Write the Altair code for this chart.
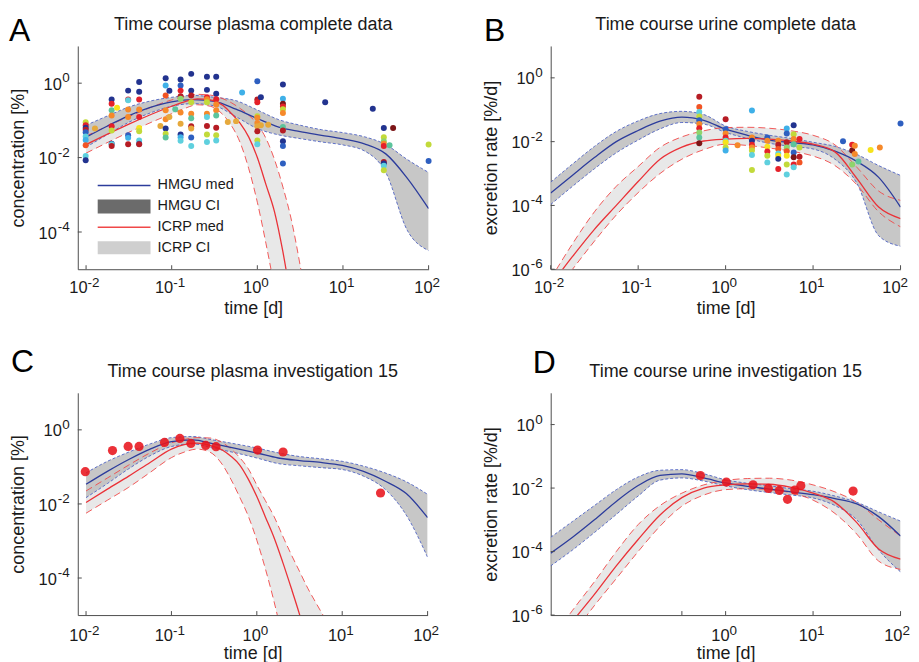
import altair as alt
import pandas as pd

FONT = "Liberation Sans"
TXT = "#1a1a1a"
AXC = "#4d4d4d"

# ---------------------------------------------------------------------------
# Model curves: log10 of the value, on a log10(time) grid
# ---------------------------------------------------------------------------
GRID = [-2.0, -1.75, -1.5, -1.25, -1.0, -0.75, -0.5, -0.25, 0.0, 0.25, 0.5, 0.75, 1.0, 1.25, 1.5, 1.75, 2.0]

# Panel A - plasma, complete data
A_hmgu_logt = GRID
A_hmgu_med = [-1.45, -1.15, -0.87, -0.65, -0.50, -0.44, -0.49, -0.70, -0.95, -1.18, -1.30, -1.40, -1.50, -1.63, -1.90, -2.55, -3.37]
A_hmgu_lo = [-1.72, -1.38, -1.05, -0.80, -0.62, -0.55, -0.61, -0.90, -1.22, -1.39, -1.49, -1.58, -1.66, -1.82, -2.40, -3.95, -4.50]
A_hmgu_hi = [-1.13, -0.88, -0.64, -0.48, -0.38, -0.33, -0.38, -0.47, -0.72, -0.98, -1.13, -1.25, -1.33, -1.44, -1.65, -2.05, -2.40]
A_icrp_logt = [-2.0, -1.5, -1.0, -0.85, -0.7, -0.55, -0.4, -0.3, -0.2, -0.1, 0.0, 0.1, 0.2, 0.3, 0.4, 0.5, 0.6]
A_icrp_med = [-1.65, -1.10, -0.62, -0.50, -0.42, -0.45, -0.60, -0.82, -1.08, -1.45, -2.00, -2.72, -3.45, -4.55, -5.90, -7.30, -8.50]
A_icrp_lo = [-1.88, -1.32, -0.82, -0.68, -0.58, -0.62, -0.85, -1.15, -1.60, -2.30, -3.20, -4.30, -5.50, -6.80, -8.00, -9.00, -10.0]
A_icrp_hi = [-1.42, -0.90, -0.45, -0.36, -0.30, -0.32, -0.42, -0.53, -0.68, -0.86, -1.10, -1.48, -2.05, -2.80, -3.70, -4.90, -6.30]

# Panel B - urine, complete data
B_hmgu_logt = GRID
B_hmgu_med = [-3.61, -3.05, -2.50, -2.00, -1.65, -1.36, -1.23, -1.33, -1.61, -1.80, -1.95, -2.03, -2.10, -2.30, -2.62, -3.12, -4.05]
B_hmgu_lo = [-3.97, -3.40, -2.85, -2.35, -1.95, -1.60, -1.40, -1.45, -1.71, -1.90, -2.05, -2.15, -2.23, -2.55, -3.30, -4.95, -5.28]
B_hmgu_hi = [-3.27, -2.70, -2.15, -1.68, -1.35, -1.12, -1.05, -1.15, -1.51, -1.68, -1.80, -1.90, -2.02, -2.15, -2.40, -2.75, -3.06]
B_icrp_logt = GRID
B_icrp_med = [-6.50, -5.60, -4.75, -4.00, -3.25, -2.55, -2.17, -1.98, -1.92, -1.90, -1.92, -1.98, -2.08, -2.32, -3.15, -4.05, -4.41]
B_icrp_lo = [-6.90, -6.00, -5.12, -4.30, -3.60, -3.00, -2.55, -2.25, -2.08, -2.12, -2.20, -2.30, -2.45, -2.75, -3.35, -4.20, -4.67]
B_icrp_hi = [-6.30, -5.20, -4.20, -3.40, -2.78, -2.18, -1.85, -1.66, -1.56, -1.55, -1.58, -1.66, -1.80, -2.10, -2.80, -3.55, -3.84]

# Panel C - plasma, investigation 15
C_hmgu_logt = GRID
C_hmgu_med = [-1.47, -1.12, -0.80, -0.52, -0.32, -0.27, -0.38, -0.50, -0.625, -0.76, -0.83, -0.88, -0.96, -1.12, -1.38, -1.72, -2.37]
C_hmgu_lo = [-1.83, -1.45, -1.05, -0.70, -0.45, -0.38, -0.50, -0.62, -0.76, -0.91, -0.97, -1.02, -1.07, -1.25, -1.60, -2.30, -3.44]
C_hmgu_hi = [-1.16, -0.85, -0.60, -0.38, -0.21, -0.18, -0.28, -0.38, -0.49, -0.62, -0.72, -0.78, -0.85, -0.98, -1.16, -1.40, -1.74]
C_icrp_logt = [-2.0, -1.75, -1.5, -1.25, -1.0, -0.85, -0.7, -0.55, -0.4, -0.3, -0.2, -0.1, 0.0, 0.1, 0.2, 0.3, 0.4, 0.5, 0.6, 0.7, 0.8]
C_icrp_med = [-1.96, -1.60, -1.25, -0.88, -0.52, -0.40, -0.36, -0.42, -0.55, -0.72, -0.95, -1.33, -1.80, -2.35, -2.90, -3.55, -4.25, -4.98, -5.80, -6.60, -7.40]
C_icrp_lo = [-2.25, -1.90, -1.55, -1.15, -0.75, -0.60, -0.52, -0.60, -0.95, -1.35, -1.82, -2.33, -2.98, -3.75, -4.62, -5.60, -6.60, -7.60, -8.60, -9.60, -10.6]
C_icrp_hi = [-1.65, -1.30, -0.95, -0.62, -0.35, -0.26, -0.21, -0.22, -0.35, -0.52, -0.75, -1.05, -1.49, -1.91, -2.33, -2.85, -3.35, -3.82, -4.29, -4.70, -5.10]

# Panel D - urine, investigation 15
D_hmgu_logt = GRID
D_hmgu_med = [-4.05, -3.55, -3.00, -2.42, -1.92, -1.60, -1.55, -1.68, -1.84, -1.95, -2.03, -2.12, -2.21, -2.33, -2.50, -2.90, -3.51]
D_hmgu_lo = [-4.45, -3.95, -3.40, -2.83, -2.25, -1.75, -1.68, -1.78, -1.93, -2.05, -2.14, -2.22, -2.31, -2.55, -3.00, -3.95, -4.64]
D_hmgu_hi = [-3.55, -3.05, -2.55, -2.05, -1.65, -1.44, -1.42, -1.55, -1.74, -1.85, -1.93, -2.02, -2.10, -2.25, -2.45, -2.75, -3.04]
D_icrp_logt = GRID
D_icrp_med = [-7.10, -6.20, -5.35, -4.45, -3.62, -2.85, -2.30, -2.00, -1.90, -1.87, -1.88, -1.98, -2.16, -2.45, -3.09, -3.92, -4.24]
D_icrp_lo = [-7.50, -6.60, -5.70, -4.85, -4.00, -3.20, -2.57, -2.22, -2.05, -2.02, -2.05, -2.15, -2.38, -2.80, -3.45, -4.30, -4.56]
D_icrp_hi = [-6.80, -5.85, -4.95, -4.00, -3.15, -2.55, -2.16, -1.90, -1.76, -1.70, -1.69, -1.75, -1.90, -2.12, -2.45, -3.00, -3.51]

# ---------------------------------------------------------------------------
# Observations (time in days, log10 value, investigation index)
# ---------------------------------------------------------------------------
A_obs_time = [0.0099, 0.0127, 0.0199, 0.023, 0.031, 0.0417, 0.0738, 0.085, 0.094, 0.11, 0.127, 0.169,
              0.258, 0.331, 0.452, 0.565, 0.664, 1.0, 1.1, 1.34, 1.99, 6.2, 22.3, 30.0, 35.0, 38.5, 100.0]
A_obs_logv = [
    [-1.05, -1.13, -1.20, -1.25, -1.32, -1.43, -1.53, -1.67, -1.96, -2.07],
    [-1.22],
    [-0.44, -0.55, -0.73, -0.87, -1.16, -1.27, -1.625, -1.64, -1.69],
    [-0.66],
    [-0.20, -0.44, -0.46, -0.71, -0.91, -1.40, -1.47, -1.64],
    [0.03, -0.23, -0.44, -0.71, -0.91, -1.205, -1.29, -1.54, -1.625, -1.64],
    [-1.15],
    [0.13, -0.06, -0.33, -0.73, -0.97, -1.22, -1.36, -1.46],
    [-0.205, -0.91],
    [-0.70],
    [0.10, -0.06, -0.20, -0.35, -0.42, -0.79, -1.09, -1.38, -1.45, -1.55],
    [0.25, -0.20, -0.33, -0.51, -0.82, -0.94, -1.16, -1.22, -1.46, -1.69],
    [0.17, -0.18, -0.375, -0.43, -0.51, -0.82, -0.91, -1.15, -1.38, -1.58],
    [0.17, -0.285, -0.43, -0.57, -0.73, -0.87, -1.20, -1.40, -1.54],
    [-1.045],
    [-1.02],
    [-0.25],
    [0.054, -0.44, -0.51, -0.89, -0.93, -1.07, -1.16, -1.29, -1.54, -1.64],
    [-0.375, -1.13],
    [-1.12],
    [-0.036, -0.42, -0.55, -0.625, -0.70, -0.80, -1.18, -1.27, -1.56, -1.69, -2.16],
    [-0.51],
    [-0.69],
    [-1.205, -1.45, -1.56, -1.625, -1.69, -2.12, -2.16, -2.22, -2.34],
    [-1.67],
    [-1.205],
    [-1.65, -2.09],
]
A_obs_study = [
    [7, 12, 1, 13, 2, 4, 3, 11, 4, 1],
    [9],
    [1, 12, 5, 10, 12, 7, 1, 4, 13],
    [8],
    [1, 12, 4, 10, 10, 2, 3, 13],
    [1, 1, 12, 10, 12, 8, 7, 4, 2, 13],
    [9],
    [1, 3, 11, 10, 10, 1, 7, 5],
    [1, 9],
    [5],
    [1, 2, 12, 13, 6, 10, 9, 1, 3, 4],
    [1, 1, 13, 7, 10, 5, 13, 9, 2, 4],
    [1, 1, 12, 10, 7, 10, 4, 13, 7, 4],
    [1, 1, 12, 10, 10, 5, 13, 7, 4],
    [9],
    [9],
    [3],
    [2, 13, 12, 7, 10, 10, 9, 13, 7, 4],
    [1, 9],
    [9],
    [1, 3, 14, 12, 7, 10, 5, 13, 1, 2, 2],
    [1],
    [1],
    [1, 7, 6, 10, 12, 13, 1, 4, 7],
    [5],
    [14],
    [7, 2],
]

B_obs_time = [0.5, 1.0, 1.37, 2.0, 3.0, 4.0, 5.0, 6.0, 7.0, 22.0, 28.0, 30.0, 33.0, 45.5, 58.0, 100.0]
B_obs_logv = [
    [-0.59, -0.91, -1.07, -1.215, -1.33, -1.45, -1.58, -1.71, -1.87, -2.05],
    [-1.30, -1.61, -1.745, -1.87, -1.97, -2.02, -2.18, -2.28],
    [-2.11],
    [-1.02, -1.87, -1.97, -2.10, -2.18, -2.28, -2.42, -2.89],
    [-1.87, -1.97, -2.16, -2.31, -2.44, -2.65],
    [-1.97, -2.10, -2.23, -2.37, -2.44, -2.54, -2.86],
    [-1.59, -1.745, -2.02, -2.18, -2.30, -2.44, -2.72, -3.03],
    [-1.485, -1.765, -1.92, -2.08, -2.34, -2.49, -2.72, -2.80],
    [-1.92, -2.18, -2.47, -2.65],
    [-1.99],
    [-2.10, -2.28, -2.72],
    [-2.13, -2.39],
    [-2.62],
    [-2.26],
    [-2.18],
    [-1.43],
]
B_obs_study = [
    [13, 11, 4, 7, 2, 10, 12, 6, 5, 14],
    [13, 2, 10, 12, 4, 8, 7, 3],
    [10],
    [3, 10, 1, 12, 10, 7, 4, 7],
    [2, 10, 8, 12, 7, 4],
    [10, 13, 11, 4, 8, 1, 12],
    [3, 2, 13, 6, 11, 8, 7, 4],
    [1, 7, 10, 5, 2, 14, 12, 4],
    [12, 7, 13, 11],
    [2],
    [12, 14, 6],
    [10, 10],
    [5],
    [8],
    [10],
    [2],
]

C_obs_time = [0.0098, 0.0204, 0.0311, 0.0418, 0.083, 0.1256, 0.169, 0.252, 0.333, 1.02, 2.03, 28.1]
C_obs_logv = [-1.13, -0.56, -0.446, -0.446, -0.34, -0.232, -0.366, -0.42, -0.455, -0.545, -0.598, -1.705]

D_obs_time = [0.515, 1.02, 2.06, 3.08, 4.11, 5.1, 6.19, 7.24, 28.7]
D_obs_logv = [-1.604, -1.8125, -1.896, -2.01, -2.073, -2.354, -2.0625, -1.927, -2.094]

STUDIES = list(range(1, 15))
PALETTE = ["#22338f", "#2e5fc0", "#3fb0e8", "#5fd0de", "#5cc49c", "#8fd46c", "#c2da3a",
           "#f6e31c", "#e6a93c", "#f6892a", "#f25424", "#e5212a", "#b61c24", "#7c1517"]

# tick positions and their decade exponents
X_TICKS = [0.01, 0.1, 1, 10, 100]
X_EXPS = [-2, -1, 0, 1, 2]
D_X_TICKS = [10 ** -0.5, 1, 10, 100]
D_X_LABELED = [1, 10, 100]
D_X_EXPS = [0, 1, 2]
Y_TICKS_PLASMA = [1e-4, 1e-2, 1]
Y_EXPS_PLASMA = [-4, -2, 0]
Y_TICKS_URINE = [1e-6, 1e-4, 1e-2, 1]
Y_EXPS_URINE = [-6, -4, -2, 0]


def curve_df(logt, med, lo, hi):
    return pd.DataFrame({
        "t": [10 ** x for x in logt],
        "med": [10 ** x for x in med],
        "lo": [10 ** x for x in lo],
        "hi": [10 ** x for x in hi],
    })


def obs_grouped(times, logv, study):
    rows = []
    for t, vs, ss in zip(times, logv, study):
        for v, s in zip(vs, ss):
            rows.append({"t": t, "v": 10 ** v, "s": s})
    return pd.DataFrame(rows)


def obs_single(times, logv):
    return pd.DataFrame({"t": times, "v": [10 ** v for v in logv]})


def one(**kw):
    return pd.DataFrame({k: [v] for k, v in kw.items()})


def panel(hm, ic, obs, w, h, xdom, ydom, xticks, xlab_vals, xlab_exps, yticks, yexps,
          title, ytitle, letter, letter_x, letter_y, colored, xlab_off, last_shift=0.0, legend=False):
    xs = alt.Scale(type="log", domain=xdom, nice=False)
    ys = alt.Scale(type="log", domain=ydom, nice=False)
    ax = alt.Axis(values=xticks, labels=False, title="time [d]",
                  grid=False, ticks=False, tickSize=0, domainColor=AXC, domainWidth=1,
                  titleFont=FONT, titleFontSize=18, titleFontWeight="normal", titleColor=TXT,
                  titlePadding=30)
    ay = alt.Axis(values=yticks, labels=False, title=ytitle,
                  grid=False, ticks=False, tickSize=0, domainColor=AXC, domainWidth=1,
                  titleFont=FONT, titleFontSize=18, titleFontWeight="normal", titleColor=TXT,
                  titlePadding=50)

    def X(f="t"):
        return alt.X(f"{f}:Q", scale=xs, axis=ax)

    def Y(f):
        return alt.Y(f"{f}:Q", scale=ys, axis=ay)

    layers = []
    layers.append(alt.Chart(ic).mark_area(color="#e8e8e8", clip=True, interpolate="monotone")
                  .encode(x=X(), y=Y("lo"), y2=alt.Y2("hi:Q")))
    layers.append(alt.Chart(hm).mark_area(color="#bdbdbd", opacity=0.85, clip=True, interpolate="monotone")
                  .encode(x=X(), y=Y("lo"), y2=alt.Y2("hi:Q")))
    for f in ("lo", "hi"):
        layers.append(alt.Chart(hm).mark_line(color="#4f63c4", strokeWidth=0.9, strokeDash=[3, 2],
                                              clip=True, interpolate="monotone")
                      .encode(x=X(), y=Y(f)))
    for f in ("lo", "hi"):
        layers.append(alt.Chart(ic).mark_line(color="#f04848", strokeWidth=0.9, strokeDash=[7, 4],
                                              clip=True, interpolate="monotone")
                      .encode(x=X(), y=Y(f)))
    layers.append(alt.Chart(hm).mark_line(color="#2c3c9c", strokeWidth=1.3, clip=True, interpolate="monotone")
                  .encode(x=X(), y=Y("med")))
    layers.append(alt.Chart(ic).mark_line(color="#ea3238", strokeWidth=1.3, clip=True, interpolate="monotone")
                  .encode(x=X(), y=Y("med")))
    if colored:
        layers.append(alt.Chart(obs).mark_circle(size=36, opacity=1)
                      .encode(x=X(), y=Y("v"),
                              color=alt.Color("s:N", scale=alt.Scale(domain=STUDIES, range=PALETTE), legend=None)))
    else:
        layers.append(alt.Chart(obs).mark_circle(size=85, color="#e8141c", opacity=0.88)
                      .encode(x=X(), y=Y("v")))
    # inward ticks
    layers.append(alt.Chart(pd.DataFrame({"t": xticks})).mark_rule(color=AXC, strokeWidth=1)
                  .encode(x=X(), y=alt.value(h), y2=alt.value(h - 4)))
    layers.append(alt.Chart(pd.DataFrame({"v": yticks})).mark_rule(color=AXC, strokeWidth=1)
                  .encode(y=Y("v"), x=alt.value(0), x2=alt.value(4)))
    # x tick labels: "10" with a raised exponent, one pair per tick
    last = max(xlab_vals)
    for v, e in zip(xlab_vals, xlab_exps):
        dx = 1.5 if e < 0 else 4.0
        if v == last:
            dx += last_shift
        df = pd.DataFrame({"t": [v], "b": ["10"], "e": [str(e)]})
        layers.append(alt.Chart(df).mark_text(font=FONT, fontSize=16.5, align="right", baseline="alphabetic",
                                              dx=dx, color=TXT)
                      .encode(x=X(), y=alt.value(h + xlab_off), text="b:N"))
        layers.append(alt.Chart(df).mark_text(font=FONT, fontSize=13.5, align="left", baseline="alphabetic",
                                              dx=dx, color=TXT)
                      .encode(x=X(), y=alt.value(h + xlab_off - 6), text="e:N"))
    # y tick labels
    for neg, x10 in ((True, -21), (False, -16)):
        grp = [(v, e) for v, e in zip(yticks, yexps) if (e < 0) == neg]
        if not grp:
            continue
        df = pd.DataFrame({"v": [g[0] for g in grp], "b": ["10"] * len(grp), "e": [str(g[1]) for g in grp]})
        layers.append(alt.Chart(df).mark_text(font=FONT, fontSize=16.5, align="right", baseline="alphabetic",
                                              dy=6.6, color=TXT)
                      .encode(x=alt.value(x10), y=Y("v"), text="b:N"))
        layers.append(alt.Chart(df).mark_text(font=FONT, fontSize=13.5, align="right", baseline="alphabetic",
                                              dy=-1, color=TXT)
                      .encode(x=alt.value(-8), y=Y("v"), text="e:N"))
    # title and panel letter
    layers.append(alt.Chart(one(s=title)).mark_text(font=FONT, fontSize=18, align="center",
                                                     baseline="alphabetic", color=TXT)
                  .encode(x=alt.value(w / 2), y=alt.value(-15.7), text="s:N"))
    layers.append(alt.Chart(one(s=letter)).mark_text(font=FONT, fontSize=32, align="left",
                                                      baseline="alphabetic", color="#000000")
                  .encode(x=alt.value(letter_x), y=alt.value(letter_y), text="s:N"))
    if legend:
        lx0, lx1, tx = 20, 73, 80
        layers.append(alt.Chart(one(a=0)).mark_rule(color="#2c3c9c", strokeWidth=1.5)
                      .encode(x=alt.value(lx0), x2=alt.value(lx1), y=alt.value(140)))
        layers.append(alt.Chart(one(a=0)).mark_rect(color="#6b6b6b")
                      .encode(x=alt.value(lx0), x2=alt.value(lx1), y=alt.value(154), y2=alt.value(168)))
        layers.append(alt.Chart(one(a=0)).mark_rule(color="#f04848", strokeWidth=1.5)
                      .encode(x=alt.value(lx0), x2=alt.value(lx1), y=alt.value(182)))
        layers.append(alt.Chart(one(a=0)).mark_rect(color="#cfcfcf")
                      .encode(x=alt.value(lx0), x2=alt.value(lx1), y=alt.value(196), y2=alt.value(209)))
        for lab, yy in zip(["HMGU med", "HMGU CI", "ICRP med", "ICRP CI"], [140, 161, 182, 202.5]):
            layers.append(alt.Chart(one(s=lab)).mark_text(font=FONT, fontSize=14.5, align="left",
                                                           baseline="middle", color=TXT)
                          .encode(x=alt.value(tx), y=alt.value(yy), text="s:N"))
    return alt.layer(*layers).properties(width=w, height=h)


A = panel(curve_df(A_hmgu_logt, A_hmgu_med, A_hmgu_lo, A_hmgu_hi),
          curve_df(A_icrp_logt, A_icrp_med, A_icrp_lo, A_icrp_hi),
          obs_grouped(A_obs_time, A_obs_logv, A_obs_study),
          352, 224, [0.008, 100], [1e-5, 10], X_TICKS, X_TICKS, X_EXPS, Y_TICKS_PLASMA, Y_EXPS_PLASMA,
          "Time course plasma complete data", "concentration [%]", "A", -69, -5, True, 24, legend=True)
B = panel(curve_df(B_hmgu_logt, B_hmgu_med, B_hmgu_lo, B_hmgu_hi),
          curve_df(B_icrp_logt, B_icrp_med, B_icrp_lo, B_icrp_hi),
          obs_grouped(B_obs_time, B_obs_logv, B_obs_study),
          351, 224, [0.01, 100], [1e-6, 10], X_TICKS, X_TICKS, X_EXPS, Y_TICKS_URINE, Y_EXPS_URINE,
          "Time course urine complete data", "excretion rate [%/d]", "B", -67, -5, True, 24, last_shift=-4.0)
C = panel(curve_df(C_hmgu_logt, C_hmgu_med, C_hmgu_lo, C_hmgu_hi),
          curve_df(C_icrp_logt, C_icrp_med, C_icrp_lo, C_icrp_hi),
          obs_single(C_obs_time, C_obs_logv),
          351, 223, [0.008, 100], [1e-5, 10], X_TICKS, X_TICKS, X_EXPS, Y_TICKS_PLASMA, Y_EXPS_PLASMA,
          "Time course plasma investigation 15", "concentration [%]", "C", -67, -21, False, 26)
D = panel(curve_df(D_hmgu_logt, D_hmgu_med, D_hmgu_lo, D_hmgu_hi),
          curve_df(D_icrp_logt, D_icrp_med, D_icrp_lo, D_icrp_hi),
          obs_single(D_obs_time, D_obs_logv),
          351, 223, [0.01, 100], [1e-6, 10], D_X_TICKS, D_X_LABELED, D_X_EXPS, Y_TICKS_URINE, Y_EXPS_URINE,
          "Time course urine investigation 15", "excretion rate [%/d]", "D", -18, -19.7, False, 26,
          last_shift=-2.0)

RES = dict(x="independent", y="independent", color="independent")
row1 = alt.hconcat(A, B, spacing=42.5).resolve_scale(**RES)
row2 = alt.hconcat(C, D, spacing=43.5).resolve_scale(**RES)
chart = (alt.vconcat(row1, row2, spacing=29).resolve_scale(**RES)
         .properties(padding={"left": 1, "top": 6, "right": 0, "bottom": 0})
         .configure(font=FONT)
         .configure_view(stroke=None))

chart.save("out.html", embed_options={"renderer": "svg", "actions": False})
